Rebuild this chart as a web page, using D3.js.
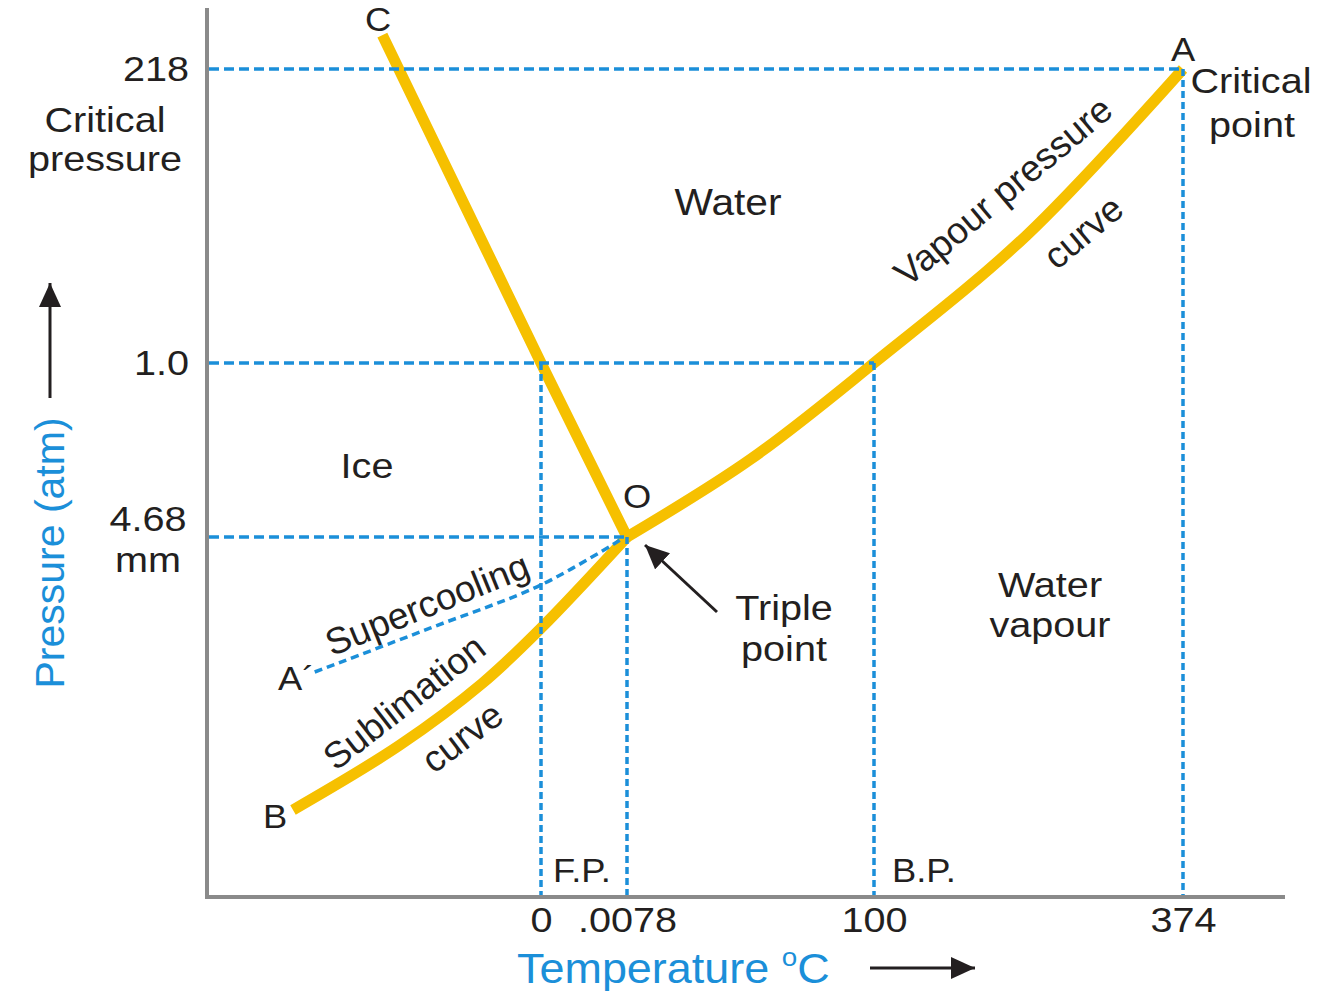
<!DOCTYPE html>
<html>
<head>
<meta charset="utf-8">
<script src="https://cdn.jsdelivr.net/npm/d3@7"></script>
<style>
body { margin: 0; background: #fff; }
text { font-family: "Liberation Sans", Arial, sans-serif; fill: #231f20; }
</style>
</head>
<body>
<svg id="chart"></svg>
<script>
const WIDTH = 1319, HEIGHT = 991
const BLUE = '#1b8fd9', YELLOW = '#f6c000', INK = '#231f20', AXIS = '#8a8a8a'
const STRETCH = 1.1   // the original lettering is a little wider than Arial

// temperature (°C) breakpoints of the schematic axis
const tempBreaks = [-40, 0, 0.0078, 100, 374]
const tempTicks = [0, 0.0078, 100, 374]
const tempLabels = ['0', '.0078', '100', '374']

// pressure (atm) breakpoints, 4.68 mm = 0.00616 atm
const pressBreaks = [0, 0.00616, 1.0, 218]
const pressTicks = [0.00616, 1.0, 218]
const pressLabels = ['4.68', '1.0', '218']

// phase boundaries as [temperature, pressure]
const fusionCurve = [[0.0078, 0.00616], [0, 1.0], [-19, 243]]
const vapourCurve = [[0.0078, 0.00616], [50, 0.45], [100, 1.0], [235, 95], [374, 218]]
const sublimationCurve = [[-29.7, 0.00149], [-16.9, 0.0026], [-7, 0.00366], [0, 0.0046], [0.0078, 0.00616]]
const supercoolCurve = [[-27.1, 0.00385], [-13.3, 0.0046], [0, 0.00534], [0.0072, 0.00611]]

// dashed guides: [pressure, temperature where it stops]
const hGuides = [[218, 374], [1.0, 100], [0.00616, 0.0078]]
// [temperature, pressure where it stops]
const vGuides = [[0, 1.0], [0.0078, 0.00616], [100, 1.0], [374, 218]]

const x = d3.scaleLinear().domain(tempBreaks).range([207, 541, 627, 874, 1183])
const y = d3.scaleLinear().domain(pressBreaks).range([897, 537, 363, 69])
const X_END = 1285, Y_TOP = 8

let svg = d3.select('#chart')
    .attr('width', WIDTH)
    .attr('height', HEIGHT)

let defs = svg.append('defs')
defs.append('clipPath').attr('id', 'clip')
    .append('rect').attr('x', 0).attr('y', Y_TOP).attr('width', WIDTH).attr('height', HEIGHT - Y_TOP)

defs.append('marker')
    .attr('id', 'head')
    .attr('markerUnits', 'userSpaceOnUse')
    .attr('viewBox', '0 0 24 22')
    .attr('refX', 24).attr('refY', 11)
    .attr('markerWidth', 24).attr('markerHeight', 22)
    .attr('orient', 'auto')
    .append('path')
    .attr('d', 'M0,0 L24,11 L0,22 Z')
    .attr('fill', INK)

let g = svg.append('g').attr('clip-path', 'url(#clip)')

// axes lines
g.append('line')
    .attr('x1', x(-40)).attr('x2', x(-40))
    .attr('y1', Y_TOP).attr('y2', y(0) + 2)
    .attr('stroke', AXIS).attr('stroke-width', 4)
g.append('line')
    .attr('x1', x(-40) - 2).attr('x2', X_END)
    .attr('y1', y(0)).attr('y2', y(0))
    .attr('stroke', AXIS).attr('stroke-width', 4)

// phase curves
let line = d3.line().x(d => x(d[0])).y(d => y(d[1]))

g.append('path')
    .attr('d', line.curve(d3.curveLinear)(fusionCurve))
    .attr('fill', 'none').attr('stroke', YELLOW).attr('stroke-width', 11)
g.append('path')
    .attr('d', line.curve(d3.curveCatmullRom.alpha(0.5))(vapourCurve))
    .attr('fill', 'none').attr('stroke', YELLOW).attr('stroke-width', 11)
g.append('path')
    .attr('d', line.curve(d3.curveCatmullRom.alpha(0.5))(sublimationCurve))
    .attr('fill', 'none').attr('stroke', YELLOW).attr('stroke-width', 11)

g.append('path')
    .attr('d', line.curve(d3.curveCatmullRom.alpha(0.5))(supercoolCurve))
    .attr('fill', 'none').attr('stroke', BLUE).attr('stroke-width', 3.5)
    .attr('stroke-dasharray', '8,5')

// guides (drawn over the curves, as in the original)
g.selectAll('.hguide')
    .data(hGuides)
    .join('line')
    .attr('class', 'hguide')
    .attr('x1', x(-40) + 2).attr('x2', d => x(d[1]))
    .attr('y1', d => y(d[0])).attr('y2', d => y(d[0]))
    .attr('stroke', BLUE).attr('stroke-width', 3.5)
    .attr('stroke-dasharray', '10,5')

g.selectAll('.vguide')
    .data(vGuides)
    .join('line')
    .attr('class', 'vguide')
    .attr('x1', d => x(d[0])).attr('x2', d => x(d[0]))
    .attr('y1', d => y(d[1])).attr('y2', y(0) - 2)
    .attr('stroke', BLUE).attr('stroke-width', 3.5)
    .attr('stroke-dasharray', '7,4')

// tick labels
let xAxis = g.append('g')
    .attr('transform', 'translate(0,' + y(0) + ')')
    .call(d3.axisBottom(x).tickValues(tempTicks).tickSize(0).tickPadding(9)
        .tickFormat((d, i) => tempLabels[i]))
xAxis.select('.domain').remove()
xAxis.selectAll('text')
    .attr('fill', INK)
    .attr('transform', 'scale(' + STRETCH + ',1)')
    .style('font-size', '36px').style('font-family', '"Liberation Sans", Arial, sans-serif')

let yAxis = g.append('g')
    .attr('transform', 'translate(' + x(-40) + ',0)')
    .call(d3.axisLeft(y).tickValues(pressTicks).tickSize(0).tickPadding(15)
        .tickFormat((d, i) => pressLabels[i]))
yAxis.select('.domain').remove()
yAxis.selectAll('text')
    .attr('fill', INK)
    .attr('x', -18 / STRETCH)
    .attr('transform', 'scale(' + STRETCH + ',1)')
    .style('font-size', '36px').style('font-family', '"Liberation Sans", Arial, sans-serif')

// 4.68 mm tick is written on two lines above/below the guide
yAxis.selectAll('.tick').filter(d => d === 0.00616).select('text')
    .attr('text-anchor', 'middle').attr('x', -59 / STRETCH).attr('dy', null).attr('y', -7)
    .text('4.68')
    .clone()
    .attr('y', 35)
    .text('mm')

function label(txt, px, py, size, anchor, parent) {
    return (parent || g).append('text')
        .attr('transform', 'translate(' + px + ',' + py + ') scale(' + STRETCH + ',1)')
        .attr('text-anchor', anchor || 'middle')
        .style('font-size', size + 'px')
        .text(txt)
}

function tilted(txt, cx, cy, angle, size) {
    return g.append('text')
        .attr('transform', 'translate(' + cx + ',' + cy + ') rotate(' + angle + ')')
        .attr('text-anchor', 'middle')
        .attr('dy', '0.35em')
        .style('font-size', size + 'px')
        .text(txt)
}

label('Critical', 105, 132, 36)
label('pressure', 105, 171, 36)

label('C', 378, 31, 33, 'middle', svg)
label('A', x(374), 61, 33)
label('Critical', 1251, 93, 36)
label('point', 1252, 137, 36)
label('O', 637, 508, 33)
label('B', 263, 828, 33, 'start')
label('A´', 278, 690, 33, 'start')

label('Water', 728, 215, 37)
label('Ice', 367, 478, 36)
label('Water', 1050, 597, 36)
label('vapour', 1050, 637, 36)
label('Triple', 784, 620, 36)
label('point', 784, 661, 36)

label('F.P.', x(0) + 12, 882, 33, 'start')
label('B.P.', x(100) + 18, 882, 33, 'start')

tilted('Vapour pressure', 1003, 191, -40, 37)
tilted('curve', 1083, 232, -40, 37)
tilted('Supercooling', 427, 604, -22, 37)
tilted('Sublimation', 404, 702, -38, 37)
tilted('curve', 462, 737, -37, 37)

// triple point arrow
g.append('line')
    .attr('x1', 717).attr('y1', 612)
    .attr('x2', x(0.0078) + 18).attr('y2', y(0.00616) + 8)
    .attr('stroke', INK).attr('stroke-width', 3)
    .attr('marker-end', 'url(#head)')

// axis titles
g.append('text')
    .attr('transform', 'translate(64,553) rotate(-90)')
    .attr('text-anchor', 'middle')
    .style('font-size', '41px')
    .style('fill', BLUE)
    .text('Pressure (atm)')
g.append('line')
    .attr('x1', 50).attr('x2', 50).attr('y1', 398).attr('y2', 283)
    .attr('stroke', INK).attr('stroke-width', 3)
    .attr('marker-end', 'url(#head)')

let tTitle = g.append('text')
    .attr('transform', 'translate(517,983) scale(1.07,1)')
    .style('font-size', '42px')
    .style('fill', BLUE)
tTitle.append('tspan').text('Temperature ')
tTitle.append('tspan').attr('dy', -17).style('font-size', '26px').text('o')
tTitle.append('tspan').attr('dy', 17).text('C')

g.append('line')
    .attr('x1', 870).attr('x2', 975).attr('y1', 968).attr('y2', 968)
    .attr('stroke', INK).attr('stroke-width', 3)
    .attr('marker-end', 'url(#head)')
</script>
</body>
</html>
